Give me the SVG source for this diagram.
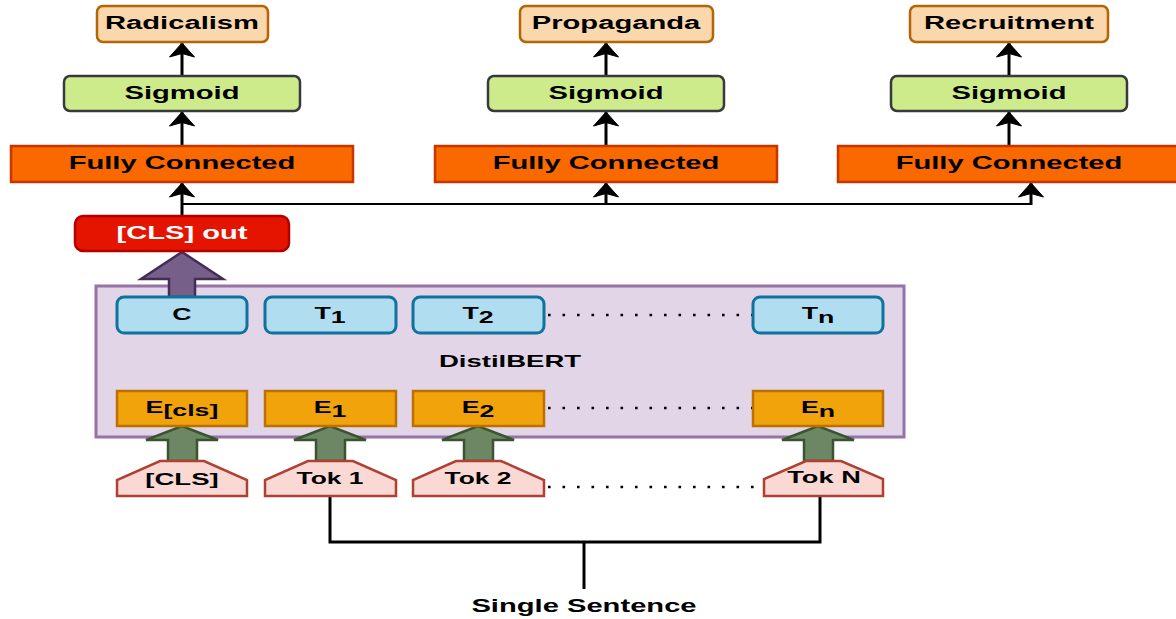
<svg xmlns="http://www.w3.org/2000/svg" width="1176" height="619" viewBox="0 0 1176 619">
  <style>
    text { font-family: "Liberation Sans", Arial, sans-serif; font-weight: bold; fill: #000; text-anchor: middle; }
    .lbl { font-size: 18px; }
    .sm { font-size: 16.5px; }
    .tok { font-size: 17px; }
    .out { fill: #fad7ac; stroke: #b46504; stroke-width: 2.5; }
    .sig { fill: #cdeb8b; stroke: #36393d; stroke-width: 2.5; }
    .fc { fill: #fa6800; stroke: #c73500; stroke-width: 2.5; }
    .cls { fill: #e51400; stroke: #b20000; stroke-width: 2.5; }
    .bert { fill: #e1d5e7; stroke: #9673a6; stroke-width: 3; }
    .t { fill: #b1ddf0; stroke: #10739e; stroke-width: 3; }
    .e { fill: #f0a30a; stroke: #bd7000; stroke-width: 2.5; }
    .tk { fill: #fad9d5; stroke: #ae4132; stroke-width: 2.5; }
    .garrow { fill: #6d8764; stroke: #3a5431; stroke-width: 2.5; }
    .parrow { fill: #76608a; stroke: #432d57; stroke-width: 2.5; }
    .line { fill: none; stroke: #000; stroke-width: 3; }
    .thin { fill: none; stroke: #000; stroke-width: 2.2; }
    .dots { fill: none; stroke: #000; stroke-width: 2.6; stroke-dasharray: 2.6 11.9; }
  </style>
  <defs>
    <!-- filled arrowhead with a notched back; +x is the direction of travel -->
    <marker id="head" markerUnits="userSpaceOnUse" markerWidth="18" markerHeight="30" viewBox="-16 -15 18 30" refX="0" refY="0" orient="auto">
      <path d="M0,0 L-14,-12.5 L-10.5,0 L-14,12.5 Z" fill="#000" stroke="#000" stroke-width="1" stroke-linejoin="miter"/>
    </marker>
  </defs>

  <!-- DistilBERT container -->
  <g id="distilbert">
    <rect class="bert" x="96" y="286" width="808" height="151"/>
    <text class="tok" transform="translate(510 367) scale(1.62 1)">DistilBERT</text>
  </g>

  <!-- connectors -->
  <g id="connectors">
    <!-- classifier heads -->
    <line class="line" x1="182" y1="76" x2="182" y2="43" marker-end="url(#head)"/>
    <line class="line" x1="182" y1="146" x2="182" y2="112" marker-end="url(#head)"/>
    <line class="line" x1="606" y1="76" x2="606" y2="43" marker-end="url(#head)"/>
    <line class="line" x1="606" y1="146" x2="606" y2="112" marker-end="url(#head)"/>
    <line class="line" x1="1009" y1="76" x2="1009" y2="43" marker-end="url(#head)"/>
    <line class="line" x1="1009" y1="146" x2="1009" y2="112" marker-end="url(#head)"/>
    <!-- [CLS] output fan-out -->
    <line class="line" x1="182" y1="216" x2="182" y2="183" marker-end="url(#head)"/>
    <polyline class="thin" points="182,204 1031,204"/>
    <line class="line" x1="606" y1="205" x2="606" y2="183" marker-end="url(#head)"/>
    <line class="line" x1="1031" y1="205" x2="1031" y2="183" marker-end="url(#head)"/>
    <!-- big arrows -->
    <path class="parrow" d="M169,297 L169,279 L141,279 L182,252 L223,279 L195,279 L195,297 Z"/>
    <path class="garrow" d="M168,461 L168,440 L146,440 L182,426 L218,440 L197,440 L197,461 Z"/>
    <path class="garrow" d="M316,461 L316,440 L294,440 L330,426 L366,440 L345,440 L345,461 Z"/>
    <path class="garrow" d="M464,461 L464,440 L442,440 L478,426 L514,440 L493,440 L493,461 Z"/>
    <path class="garrow" d="M804,461 L804,440 L782,440 L818,426 L854,440 L833,440 L833,461 Z"/>
    <!-- ellipsis rows -->
    <line class="dots" x1="548" y1="315" x2="752" y2="315"/>
    <line class="dots" x1="548" y1="408" x2="752" y2="408"/>
    <line class="dots" x1="548" y1="487" x2="762" y2="487"/>
    <!-- sentence split -->
    <polyline class="line" points="330,496 330,542 820,542 820,496"/>
    <line class="line" x1="584" y1="542" x2="584" y2="589"/>
  </g>

  <!-- output labels -->
  <g id="radicalism">
    <rect class="out" x="97" y="6" width="171" height="36" rx="6"/>
    <text class="lbl" transform="translate(182 29) scale(1.62 1)">Radicalism</text>
  </g>
  <g id="propaganda">
    <rect class="out" x="520" y="6" width="193" height="36" rx="6"/>
    <text class="lbl" transform="translate(616 29) scale(1.62 1)">Propaganda</text>
  </g>
  <g id="recruitment">
    <rect class="out" x="910" y="6" width="198" height="36" rx="6"/>
    <text class="lbl" transform="translate(1009 29) scale(1.62 1)">Recruitment</text>
  </g>

  <!-- sigmoid activations -->
  <g id="sigmoid-1">
    <rect class="sig" x="64" y="76" width="236" height="35" rx="6"/>
    <text class="lbl" transform="translate(182 99) scale(1.62 1)">Sigmoid</text>
  </g>
  <g id="sigmoid-2">
    <rect class="sig" x="488" y="76" width="236" height="35" rx="6"/>
    <text class="lbl" transform="translate(606 99) scale(1.62 1)">Sigmoid</text>
  </g>
  <g id="sigmoid-3">
    <rect class="sig" x="891" y="76" width="236" height="35" rx="6"/>
    <text class="lbl" transform="translate(1009 99) scale(1.62 1)">Sigmoid</text>
  </g>

  <!-- fully connected layers -->
  <g id="fc-1">
    <rect class="fc" x="11" y="146" width="342" height="36"/>
    <text class="lbl" transform="translate(182 169) scale(1.62 1)">Fully Connected</text>
  </g>
  <g id="fc-2">
    <rect class="fc" x="435" y="146" width="342" height="36"/>
    <text class="lbl" transform="translate(606 169) scale(1.62 1)">Fully Connected</text>
  </g>
  <g id="fc-3">
    <rect class="fc" x="838" y="146" width="342" height="36"/>
    <text class="lbl" transform="translate(1009 169) scale(1.62 1)">Fully Connected</text>
  </g>

  <!-- pooled output -->
  <g id="cls-out">
    <rect class="cls" x="75" y="216" width="214" height="35" rx="8"/>
    <text class="lbl" style="fill:#fff" transform="translate(182 239) scale(1.62 1)">[CLS] out</text>
  </g>

  <!-- transformer outputs -->
  <g id="out-c">
    <rect class="t" x="117" y="297" width="130" height="36" rx="7"/>
    <text class="sm" transform="translate(182 320) scale(1.62 1)">C</text>
  </g>
  <g id="out-t1">
    <rect class="t" x="265" y="297" width="131" height="36" rx="7"/>
    <text class="sm" transform="translate(330 319) scale(1.62 1)">T<tspan dy="4">1</tspan></text>
  </g>
  <g id="out-t2">
    <rect class="t" x="413" y="297" width="131" height="36" rx="7"/>
    <text class="sm" transform="translate(478 319) scale(1.62 1)">T<tspan dy="4">2</tspan></text>
  </g>
  <g id="out-tn">
    <rect class="t" x="753" y="297" width="130" height="36" rx="7"/>
    <text class="sm" transform="translate(818 319) scale(1.62 1)">T<tspan dy="4">n</tspan></text>
  </g>

  <!-- input embeddings -->
  <g id="emb-cls">
    <rect class="e" x="117" y="391" width="130" height="35"/>
    <text class="sm" transform="translate(182 413) scale(1.62 1)">E<tspan dy="3">[cls]</tspan></text>
  </g>
  <g id="emb-1">
    <rect class="e" x="265" y="391" width="131" height="35"/>
    <text class="sm" transform="translate(330 413) scale(1.62 1)">E<tspan dy="4">1</tspan></text>
  </g>
  <g id="emb-2">
    <rect class="e" x="413" y="391" width="131" height="35"/>
    <text class="sm" transform="translate(478 413) scale(1.62 1)">E<tspan dy="4">2</tspan></text>
  </g>
  <g id="emb-n">
    <rect class="e" x="753" y="391" width="130" height="35"/>
    <text class="sm" transform="translate(818 413) scale(1.62 1)">E<tspan dy="4">n</tspan></text>
  </g>

  <!-- input tokens -->
  <g id="tok-cls">
    <path class="tk" d="M160,461 L204,461 L247,480 L247,496 L117,496 L117,480 Z"/>
    <text class="tok" transform="translate(182 485) scale(1.62 1)">[CLS]</text>
  </g>
  <g id="tok-1">
    <path class="tk" d="M308,461 L353,461 L396,480 L396,496 L265,496 L265,480 Z"/>
    <text class="tok" transform="translate(330 484) scale(1.55 1)">Tok 1</text>
  </g>
  <g id="tok-2">
    <path class="tk" d="M456,461 L501,461 L544,480 L544,496 L413,496 L413,480 Z"/>
    <text class="tok" transform="translate(478 484) scale(1.55 1)">Tok 2</text>
  </g>
  <g id="tok-n">
    <path class="tk" d="M806,461 L841,461 L883,479 L883,496 L764,496 L764,479 Z"/>
    <text class="tok" transform="translate(824 483) scale(1.6 1)">Tok N</text>
  </g>

  <!-- sentence label -->
  <g id="sentence">
    <text class="lbl" transform="translate(584 612) scale(1.62 1)">Single Sentence</text>
  </g>
</svg>
